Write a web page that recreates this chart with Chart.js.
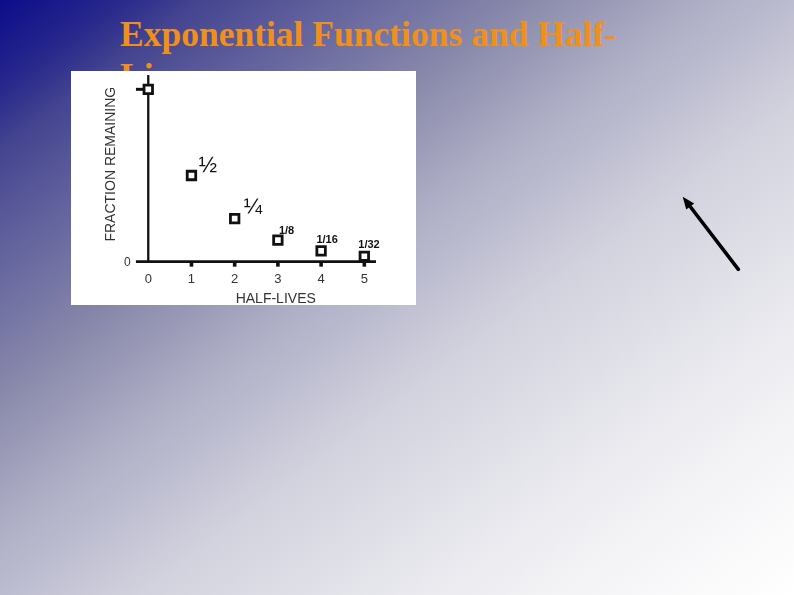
<!DOCTYPE html>
<html><head><meta charset="utf-8">
<script src="https://cdn.jsdelivr.net/npm/chart.js@4.4.1/dist/chart.umd.min.js"></script>
<style>
html,body{margin:0;padding:0;width:794px;height:595px;overflow:hidden;}
body{position:relative;background:linear-gradient(to bottom right,#0c0c8a 0%,#28288c 7.6%,#444490 12.6%,#5e5e9c 20%,#8a8aac 33.6%,#acacc4 43.7%,#bcbcd0 50%,#d2d2de 58.8%,#e8e8ee 75%,#f2f2f5 83.6%,#ffffff 100%);}
#title{position:absolute;left:120px;top:14.4px;font:bold 35.5px 'Liberation Serif','Times New Roman',serif;line-height:41.5px;color:#EF901C;white-space:nowrap;margin:0;}
#box{position:absolute;left:71px;top:71px;width:345px;height:234px;background:#fff;}
#box canvas{display:block;}
svg{position:absolute;left:0;top:0;}
</style></head>
<body>
<div id="title">Exponential Functions and Half-<br>Lives</div>
<div id="box"><canvas id="c" width="345" height="234" style="width:345px;height:234px"></canvas></div>
<svg width="794" height="595" viewBox="0 0 794 595">
  <line x1="738.3" y1="269.3" x2="689" y2="205" stroke="#000" stroke-width="3.6" stroke-linecap="round"/>
  <polygon points="682.7,196.7 694.2,203.4 686.2,209.4" fill="#000"/>
</svg>
<script>
// ---- data ----
const halfLives = [0, 1, 2, 3, 4, 5];
const fractionRemaining = [1, 0.5, 0.25, 0.125, 0.0625, 0.03125];
const pointLabels = ['', '\u00BD', '\u00BC', '1/8', '1/16', '1/32'];
const xTickValues = [0, 1, 2, 3, 4, 5];
const xTickLabels = ['0', '1', '2', '3', '4', '5'];
const yTickValues = [0];
const yTickLabels = ['0'];
const xTitle = 'HALF-LIVES';
const yTitle = 'FRACTION REMAINING';

// ---- label styling (offsets from point centre, left/baseline anchor) ----
const labelStyle = [
  null,
  {dx: 7.3, dy: -3.5, font: '22px "Liberation Sans", Arial, sans-serif'},
  {dx: 9, dy: -4.6, font: '22px "Liberation Sans", Arial, sans-serif'},
  {dx: 1, dy: -6, font: 'bold 11px "Liberation Sans", Arial, sans-serif'},
  {dx: -4.7, dy: -8, font: 'bold 11px "Liberation Sans", Arial, sans-serif'},
  {dx: -6, dy: -8, font: 'bold 11px "Liberation Sans", Arial, sans-serif'}
];

const axesPlugin = {
  id: 'handAxes',
  beforeDatasetsDraw(chart) {
    const {ctx, scales: {x, y}} = chart;
    const X = v => x.getPixelForValue(v), Y = v => y.getPixelForValue(v);
    ctx.save();
    ctx.strokeStyle = '#111';
    ctx.lineCap = 'butt';
    // y axis
    ctx.lineWidth = 2.3;
    ctx.beginPath(); ctx.moveTo(X(0), Y(1.083)); ctx.lineTo(X(0), Y(0)); ctx.stroke();
    // x axis
    ctx.lineWidth = 2.8;
    ctx.beginPath(); ctx.moveTo(X(-0.285), Y(0)); ctx.lineTo(X(5.27), Y(0)); ctx.stroke();
    // y tick at 1
    ctx.lineWidth = 3;
    ctx.beginPath(); ctx.moveTo(X(-0.285), Y(1)); ctx.lineTo(X(0), Y(1)); ctx.stroke();
    // x ticks
    ctx.fillStyle = '#111';
    xTickValues.forEach(v => { if (v > 0) ctx.fillRect(X(v) - 1.8, Y(0), 3.6, 5); });
    // tick labels
    ctx.fillStyle = '#333';
    ctx.font = '13px "Liberation Sans", Arial, sans-serif';
    ctx.textAlign = 'center';
    ctx.textBaseline = 'alphabetic';
    xTickValues.forEach((v, i) => ctx.fillText(xTickLabels[i], X(v), Y(0) + 21.6));
    ctx.font = '12px "Liberation Sans", Arial, sans-serif';
    ctx.textBaseline = 'middle';
    yTickValues.forEach((v, i) => ctx.fillText(yTickLabels[i], X(0) - 21, Y(v) + 1.5));
    // axis titles
    ctx.font = '14px "Liberation Sans", Arial, sans-serif';
    ctx.textBaseline = 'alphabetic';
    ctx.fillText(xTitle, X(2.95), Y(0) + 41.3);
    ctx.save();
    ctx.translate(X(0) - 37.6, Y(0) - 97.5);
    ctx.rotate(-Math.PI / 2);
    ctx.textBaseline = 'middle';
    ctx.fillText(yTitle, 0, 0);
    ctx.restore();
    ctx.restore();
  },
  afterDatasetsDraw(chart) {
    const {ctx} = chart;
    const pts = chart.getDatasetMeta(0).data;
    ctx.save();
    ctx.fillStyle = '#111';
    ctx.textAlign = 'left';
    ctx.textBaseline = 'alphabetic';
    pointLabels.forEach((t, i) => {
      if (!t) return;
      const s = labelStyle[i];
      ctx.font = s.font;
      ctx.fillText(t, pts[i].x + s.dx, pts[i].y + s.dy);
    });
    ctx.restore();
  }
};

new Chart(document.getElementById('c'), {
  type: 'scatter',
  data: {
    datasets: [{
      data: halfLives.map((v, i) => ({x: v, y: fractionRemaining[i]})),
      pointStyle: 'rect',
      pointRadius: 6,
      pointBorderWidth: 2.8,
      pointBorderColor: '#111',
      pointBackgroundColor: '#fff',
      clip: false
    }]
  },
  options: {
    responsive: false,
    animation: false,
    devicePixelRatio: 1,
    events: [],
    layout: {autoPadding: false, padding: {left: 64.3, right: 34.4, top: 1.1, bottom: 26.1}},
    scales: {
      x: {type: 'linear', min: -0.3, max: 5.4, display: false},
      y: {type: 'linear', min: -0.1, max: 1.1, display: false}
    },
    plugins: {legend: {display: false}, tooltip: {enabled: false}}
  },
  plugins: [axesPlugin]
});
</script>
</body></html>
